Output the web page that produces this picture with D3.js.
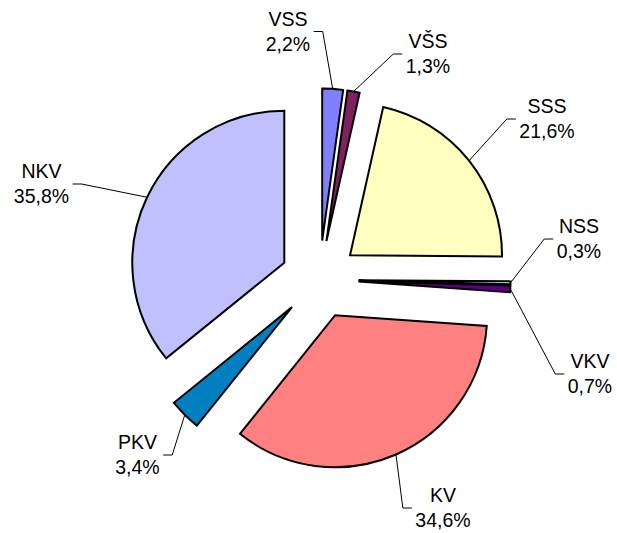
<!DOCTYPE html>
<html>
<head>
<meta charset="utf-8">
<script src="https://cdn.jsdelivr.net/npm/d3@7/dist/d3.min.js"></script>
<style>
  body { margin: 0; background: #fff; }
  text { font-family: "Liberation Sans", Arial, sans-serif; font-size: 19.5px; fill: #000; }
</style>
</head>
<body>
<div id="chart"></div>
<script>
// data, clockwise from 12 o'clock
const categories = ["VSS", "VŠS", "SSS", "NSS", "VKV", "KV", "PKV", "NKV"];
const shares = [2.2, 1.3, 21.6, 0.3, 0.7, 34.6, 3.4, 35.8];
const colors = ["#8080FF", "#802060", "#FFFFC0", "#C0FFFF", "#600080", "#FF8080", "#0080C0", "#C0C0FF"];

// label layout: text centre x and first baseline y
const labelX = [288, 428, 547, 579, 590, 443, 137.5, 41.5];
const labelY = [25.5, 48, 113, 233, 368, 502, 449, 178];

const width = 617,
  height = 533,
  cx = 319.5,
  cy = 279.5,
  radius = 152,
  explode = 39;

const fmt = d3.formatLocale({ decimal: ",", thousands: ".", grouping: [3], currency: ["", ""] }).format(".1f");

const svg = d3
  .select("#chart")
  .append("svg")
  .attr("width", width)
  .attr("height", height);

const g = svg.append("g").attr("transform", `translate(${cx}, ${cy})`);

const data = categories.map((c, i) => ({ name: c, value: shares[i], color: colors[i] }));

const pie = d3.pie().sort(null).value((d) => d.value).startAngle(0).endAngle(2 * Math.PI);
const arcs = pie(data);

const arc = d3.arc().innerRadius(0).outerRadius(radius);
const rim = d3.arc().innerRadius(radius).outerRadius(radius);
const shift = d3.arc().innerRadius(explode).outerRadius(explode);

// slices, each pushed out along its mid angle
g.selectAll("path.slice")
  .data(arcs)
  .join("path")
  .attr("class", "slice")
  .attr("transform", (d) => {
    const [dx, dy] = shift.centroid(d);
    return `translate(${dx}, ${dy})`;
  })
  .attr("d", arc)
  .attr("fill", (d) => d.data.color)
  .attr("stroke", "#000")
  .attr("stroke-width", 2);

// labels
const labels = svg
  .selectAll("g.label")
  .data(arcs)
  .join("g")
  .attr("class", "label");

labels.each(function (d, i) {
  const el = d3.select(this);
  const t1 = el
    .append("text")
    .attr("x", labelX[i])
    .attr("y", labelY[i])
    .attr("text-anchor", "middle")
    .text(d.data.name);
  const t2 = el
    .append("text")
    .attr("x", labelX[i])
    .attr("y", labelY[i] + 25)
    .attr("text-anchor", "middle")
    .text(fmt(d.data.value) + "%");

  const w = Math.max(t1.node().getComputedTextLength(), t2.node().getComputedTextLength());
  const [sx, sy] = shift.centroid(d);
  const [rx, ry] = rim.centroid(d);
  const px = cx + sx + rx,
    py = cy + sy + ry;
  const side = px > labelX[i] ? 1 : -1;
  const ex = labelX[i] + side * (w / 2 + 3.5),
    ey = labelY[i] + 6;

  el.insert("polyline", "text")
    .attr("points", [[ex, ey], [ex + side * 9, ey], [px, py]].map((p) => p.join(",")).join(" "))
    .attr("fill", "none")
    .attr("stroke", "#000")
    .attr("stroke-width", 1);
});
</script>
</body>
</html>
